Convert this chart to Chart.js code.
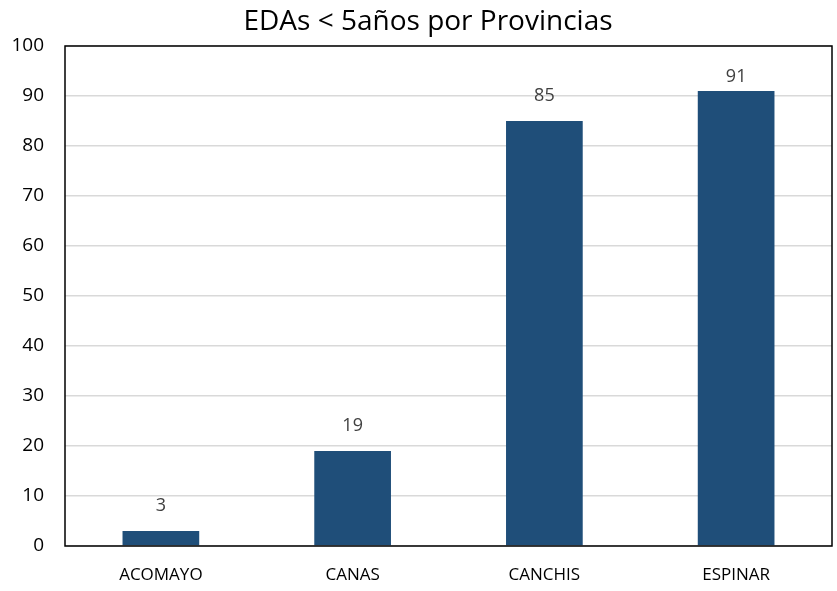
<!DOCTYPE html>
<html>
<head>
<meta charset="utf-8">
<script src="https://cdn.jsdelivr.net/npm/chart.js@4/dist/chart.umd.min.js"></script>
<style>
html,body{margin:0;padding:0;background:#fff;}
#wrap{width:837px;height:591px;position:relative;}
</style>
</head>
<body>
<div id="wrap"><canvas id="c"></canvas></div>
<script>
const categories = ["ACOMAYO", "CANAS", "CANCHIS", "ESPINAR"];
const values = [3, 19, 85, 91];
const yTicks = [0, 10, 20, 30, 40, 50, 60, 70, 80, 90, 100];
const chartTitle = "EDAs < 5años por Provincias";

const FONT = "'Open Sans', 'Liberation Sans', sans-serif";

const titlePlugin = {
  id: 'customTitle',
  afterDraw(chart) {
    const ctx = chart.ctx;
    ctx.save();
    ctx.fillStyle = '#000';
    ctx.font = "28px " + FONT;
    ctx.textAlign = 'center';
    ctx.textBaseline = 'middle';
    ctx.fillText(chartTitle, 428, 22);
    ctx.restore();
  }
};

const labelsPlugin = {
  id: 'valueLabels',
  afterDatasetsDraw(chart) {
    const ctx = chart.ctx;
    const meta = chart.getDatasetMeta(0);
    ctx.save();
    ctx.fillStyle = '#404040';
    ctx.font = "18px " + FONT;
    ctx.textAlign = 'center';
    ctx.textBaseline = 'middle';
    meta.data.forEach((bar, i) => {
      const y = Math.max(bar.y - 25, chart.chartArea.top + 31);
      ctx.fillText(String(values[i]), bar.x, y);
    });
    ctx.restore();
  }
};

const borderPlugin = {
  id: 'plotBorder',
  afterDraw(chart) {
    const a = chart.chartArea;
    const ctx = chart.ctx;
    ctx.save();
    ctx.strokeStyle = '#000';
    ctx.lineWidth = 1.5;
    ctx.strokeRect(a.left, a.top, a.right - a.left, a.bottom - a.top);
    ctx.restore();
  }
};

new Chart(document.getElementById('c'), {
  type: 'bar',
  data: {
    labels: categories,
    datasets: [{
      data: values,
      backgroundColor: '#1F4E79',
      borderWidth: 0,
      barPercentage: 0.4,
      categoryPercentage: 1.0
    }]
  },
  options: {
    responsive: true,
    maintainAspectRatio: false,
    animation: false,
    layout: { padding: { left: 0, right: 5, top: 46, bottom: 0 } },
    plugins: {
      legend: { display: false },
      tooltip: { enabled: false },
      title: { display: false }
    },
    scales: {
      x: {
        grid: { display: false, drawTicks: false },
        border: { display: false },
        ticks: { color: '#000', font: { family: FONT, size: 17 }, padding: 19 },
        afterFit(s) { s.height = 45; }
      },
      y: {
        min: 0,
        max: 100,
        afterBuildTicks(s) { s.ticks = yTicks.map(v => ({ value: v })); },
        grid: { color: '#d9d9d9', lineWidth: 1.5, drawTicks: false },
        border: { display: false },
        ticks: { color: '#000', font: { family: FONT, size: 19 }, padding: 21 },
        afterFit(s) { s.width = 65; }
      }
    }
  },
  plugins: [titlePlugin, labelsPlugin, borderPlugin]
});
</script>
</body>
</html>
